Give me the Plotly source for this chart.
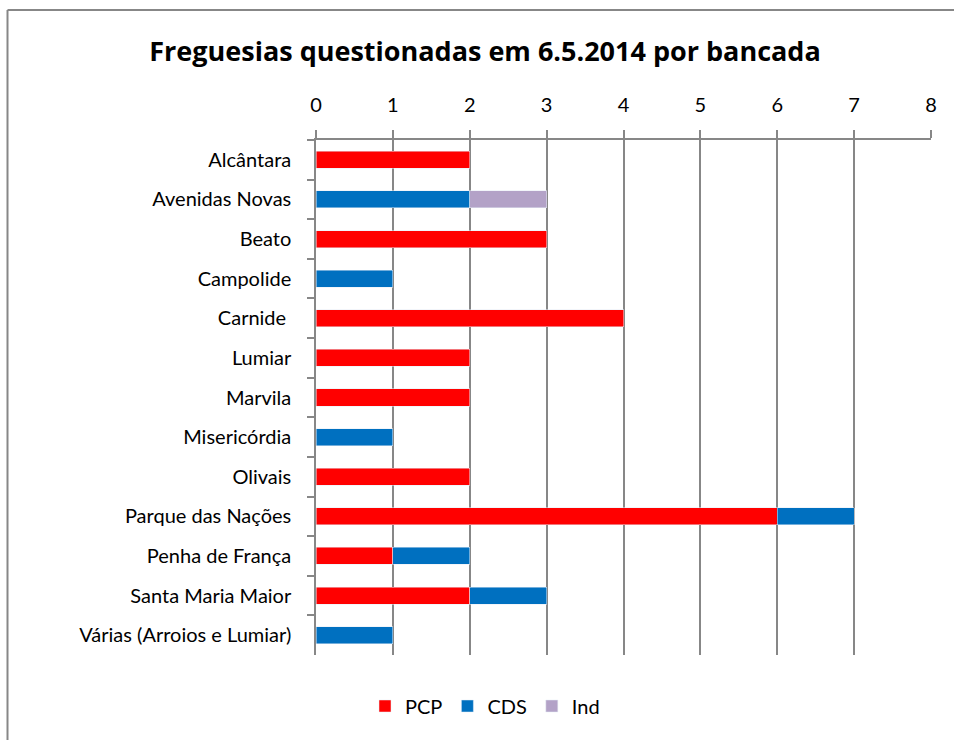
import plotly.graph_objects as go

freguesias = ['Alcântara', 'Avenidas Novas', 'Beato', 'Campolide', 'Carnide\u00a0',
              'Lumiar', 'Marvila', 'Misericórdia', 'Olivais', 'Parque das Nações',
              'Penha de França', 'Santa Maria Maior', 'Várias (Arroios e Lumiar)']
pcp = [2, None, 3, None, 4, 2, 2, None, 2, 6, 1, 2, None]
cds = [None, 2, None, 1, None, None, None, 1, None, 1, 1, 1, 1]
ind = [None, 1, None, None, None, None, None, None, None, None, None, None, None]

grid = '#878787'
font = 'Lato'

W, H = 954, 740
L, R, T, B = 316, 23, 140, 85
pw, ph = W - L - R, H - T - B

fig = go.Figure()
fig.add_trace(go.Bar(y=freguesias, x=pcp, name='PCP', orientation='h', marker_color='#FF0000'))
fig.add_trace(go.Bar(y=freguesias, x=cds, name='CDS', orientation='h', marker_color='#0070C0'))
fig.add_trace(go.Bar(y=freguesias, x=ind, name='Ind', orientation='h', marker_color='#B3A2C7'))

fig.update_layout(
    barmode='stack',
    bargap=0.57,
    width=W, height=H,
    margin=dict(l=L, r=R, t=T, b=B),
    paper_bgcolor='white', plot_bgcolor='white',
    font=dict(family=font, size=20, color='#000000'),
    title=dict(text='<b>Freguesias questionadas em 6.5.2014 por bancada</b>',
               x=485 / W, xanchor='center', y=1 - 52 / H, yanchor='middle',
               font=dict(size=27, family='Open Sans')),
    legend=dict(orientation='h', x=(485 - L) / pw, xanchor='center',
                y=(ph - (706 - T)) / ph, yanchor='middle', font=dict(size=20),
                traceorder='normal'),
    showlegend=True,
)
fig.update_xaxes(side='top', range=[0, 8], dtick=1, showgrid=True, gridcolor=grid, gridwidth=1.5,
                 ticks='outside', ticklen=8, tickcolor=grid, tickwidth=1.5,
                 showline=True, linecolor=grid, linewidth=1.5,
                 ticklabelstandoff=10, zeroline=False)
fig.update_yaxes(autorange='reversed', showline=True, linecolor=grid, linewidth=1.5,
                 ticks='outside', tickson='boundaries', ticklen=7, tickcolor=grid, tickwidth=1.5,
                 showgrid=False, ticklabelstandoff=19)

# chart frame: only its top and left edges are inside the picture
fx = (7.5 - L) / pw
fy = (ph + T - 10) / ph
fig.add_shape(type='line', xref='paper', yref='paper', x0=fx, x1=(W + 5 - L) / pw, y0=fy, y1=fy,
              line=dict(color=grid, width=2))
fig.add_shape(type='line', xref='paper', yref='paper', x0=fx, x1=fx, y0=fy, y1=-(B + 5) / ph,
              line=dict(color=grid, width=2))

# drop the default page margin so the figure fills the window exactly, hide the modebar
fig.write_html('out.html', config={'displayModeBar': False},
               post_script="document.body.style.margin='0';document.body.style.overflow='hidden';")
